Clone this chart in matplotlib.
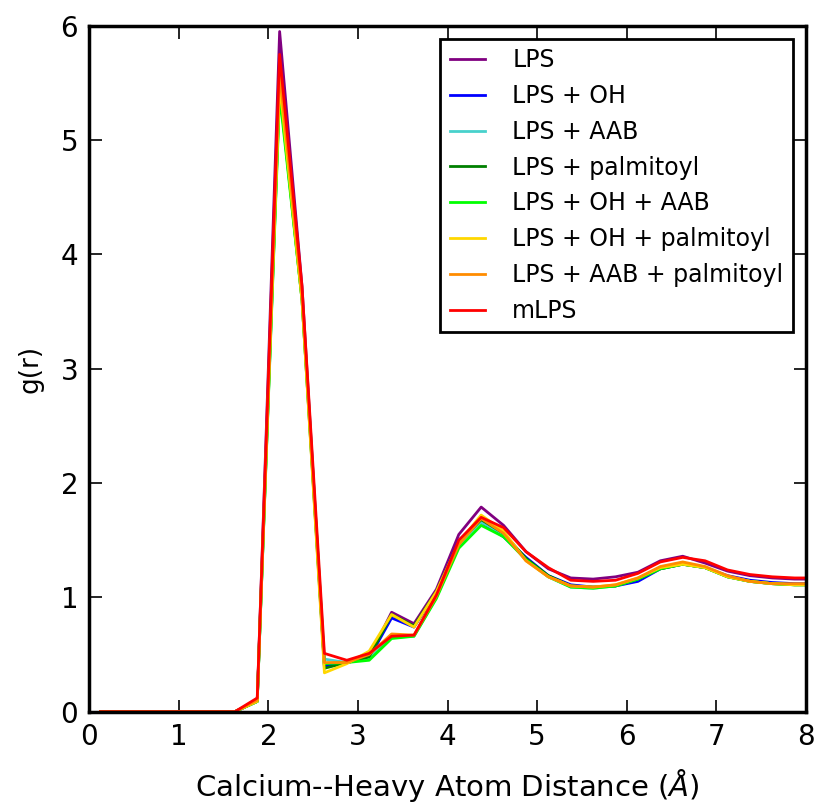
import matplotlib
matplotlib.use('Agg')
import matplotlib.pyplot as plt
import numpy as np

# bin centres (Angstrom)
r = 0.125 + 0.25*np.arange(33)

zeros = [0.0]*7

# g(r) for each system
lps = zeros + [0.10, 5.95, 3.72,
    0.40, 0.43, 0.48, 0.87, 0.77, 1.07, 1.55, 1.79, 1.63, 1.40, 1.25, 1.17,
    1.16, 1.18, 1.22, 1.32, 1.36, 1.30, 1.23, 1.19, 1.17, 1.16, 1.16]
lps_oh = zeros + [0.09, 5.60, 3.65,
    0.40, 0.43, 0.47, 0.82, 0.74, 1.04, 1.50, 1.66, 1.53, 1.35, 1.19, 1.11,
    1.09, 1.10, 1.14, 1.25, 1.29, 1.26, 1.19, 1.15, 1.13, 1.12, 1.12]
lps_aab = zeros + [0.09, 5.50, 3.65,
    0.46, 0.43, 0.47, 0.65, 0.66, 1.00, 1.46, 1.66, 1.55, 1.33, 1.18, 1.09,
    1.08, 1.10, 1.16, 1.26, 1.29, 1.26, 1.18, 1.14, 1.12, 1.11, 1.11]
lps_palm = zeros + [0.09, 5.45, 3.60,
    0.38, 0.43, 0.48, 0.85, 0.75, 1.05, 1.48, 1.68, 1.56, 1.34, 1.19, 1.10,
    1.09, 1.10, 1.16, 1.25, 1.29, 1.26, 1.18, 1.14, 1.12, 1.11, 1.11]
lps_oh_aab = zeros + [0.09, 5.40, 3.60,
    0.42, 0.43, 0.45, 0.64, 0.66, 0.99, 1.43, 1.63, 1.53, 1.33, 1.18, 1.09,
    1.08, 1.10, 1.16, 1.25, 1.29, 1.26, 1.18, 1.14, 1.12, 1.11, 1.11]
lps_oh_palm = zeros + [0.09, 5.50, 3.60,
    0.34, 0.42, 0.53, 0.85, 0.74, 1.05, 1.48, 1.72, 1.58, 1.32, 1.18, 1.10,
    1.09, 1.11, 1.17, 1.26, 1.29, 1.26, 1.18, 1.14, 1.12, 1.11, 1.11]
lps_aab_palm = zeros + [0.10, 5.60, 3.65,
    0.43, 0.43, 0.50, 0.68, 0.67, 1.01, 1.46, 1.69, 1.56, 1.32, 1.18, 1.10,
    1.09, 1.11, 1.17, 1.27, 1.31, 1.27, 1.19, 1.14, 1.12, 1.12, 1.12]
mlps = zeros + [0.12, 5.75, 3.72,
    0.51, 0.45, 0.51, 0.66, 0.67, 1.02, 1.50, 1.70, 1.61, 1.40, 1.26, 1.15,
    1.14, 1.15, 1.21, 1.31, 1.35, 1.32, 1.24, 1.20, 1.18, 1.17, 1.17]

series = [lps, lps_oh, lps_aab, lps_palm, lps_oh_aab, lps_oh_palm, lps_aab_palm, mlps]
labels = ['LPS', 'LPS + OH', 'LPS + AAB', 'LPS + palmitoyl', 'LPS + OH + AAB',
          'LPS + OH + palmitoyl', 'LPS + AAB + palmitoyl', 'mLPS']
colors = ['purple', 'blue', 'mediumturquoise', 'green', 'lime', 'gold',
          'darkorange', 'red']

fig = plt.figure(figsize=(8.19, 8.06), dpi=100)
ax = fig.add_axes([0.109, 0.117, 0.875, 0.851])

for y, lab, c in zip(series, labels, colors):
    ax.plot(r, y, color=c, label=lab, lw=2)

ax.set_xlim(0, 8)
ax.set_ylim(0, 6)
ax.set_xticks(range(9))
ax.set_yticks(range(7))
ax.tick_params(direction='in', top=True, right=True, length=9, width=1.2,
               labelsize=20, pad=8)
for s in ax.spines.values():
    s.set_linewidth(2.5)

ax.set_xlabel(r'Calcium--Heavy Atom Distance ($\mathit{\AA}$)', fontsize=21, labelpad=12)
ax.set_ylabel('g(r)', fontsize=19, labelpad=12)

leg = ax.legend(loc='upper right', fontsize=17, fancybox=False, framealpha=1,
                edgecolor='black', handlelength=1.5, handletextpad=1.15,
                borderaxespad=0.55, labelspacing=0.5, borderpad=0.4)
leg.get_frame().set_linewidth(2)

fig.savefig('out.png', dpi=100)
